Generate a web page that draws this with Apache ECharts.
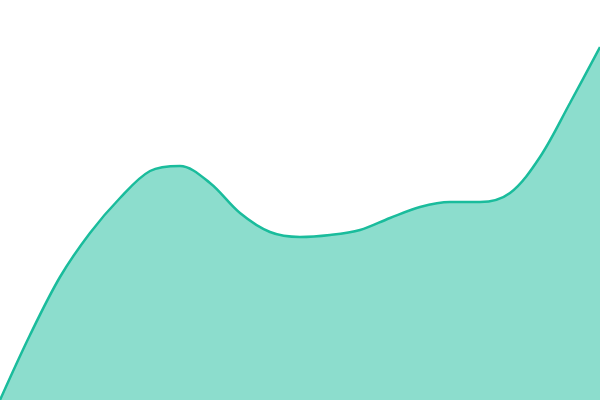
<!DOCTYPE html>
<html>
<head>
  <meta charset="utf-8">
  <title>area</title>
  <script src="https://cdn.jsdelivr.net/npm/echarts@6/dist/echarts.min.js"></script>
  <style>
    html, body { margin: 0; padding: 0; background: #fff; }
    #main { width: 600px; height: 400px; }
  </style>
</head>
<body>
<div id="main"></div>
<script>
  // 数据
  var categories = ['1', '2', '3', '4', '5', '6', '7', '8', '9', '10', '11',
                    '12', '13', '14', '15', '16', '17', '18', '19', '20', '21'];
  var values = [0, 65, 123, 167, 202, 229, 234, 217, 187, 168, 163,
                165, 170, 182, 193, 198, 198, 207, 243, 297, 353];

  var myChart = echarts.init(document.getElementById('main'));
  var option = {
    animation: false,
    grid: { left: 0, right: 0, top: 0, bottom: 0 },
    xAxis: {
      type: 'category',
      data: categories,
      boundaryGap: false,
      show: false
    },
    yAxis: {
      type: 'value',
      min: 0,
      max: 400,
      show: false
    },
    series: [{
      type: 'line',
      data: values,
      // 0.33 左右接近 Catmull-Rom，曲线更圆滑
      smooth: 0.33,
      symbol: 'none',
      lineStyle: { color: '#1abc9c', width: 2.5 },
      areaStyle: { color: '#1abc9c', opacity: 0.5 }
    }]
  };
  myChart.setOption(option);
</script>
</body>
</html>
